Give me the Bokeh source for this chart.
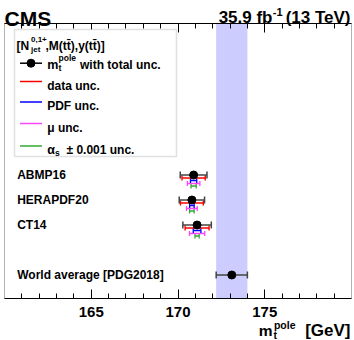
import numpy as np
from bokeh.plotting import figure
from bokeh.models import (Range1d, LinearAxis, FixedTicker, BoxAnnotation,
                          Label, ColumnDataSource)
from bokeh.core.properties import value
from bokeh.embed import file_html
from bokeh.resources import INLINE

# ---------------- data ----------------
pdf_sets = ["ABMP16", "HERAPDF20", "CT14"]
mt_pole = [170.9, 170.8, 171.1]
unc_total = [0.77, 0.73, 0.82]
unc_data = [0.67, 0.66, 0.69]
unc_pdf = [0.18, 0.13, 0.22]
unc_mu = [0.36, 0.31, 0.44]
unc_alphas = [0.15, 0.13, 0.12]

wa_label = ["World average [PDG2018]"]
wa_mt = [173.1]
wa_unc = [0.9]

major_ticks = [165, 170, 175]
minor_ticks = [t for t in range(161, 180) if t % 5 != 0]

legend_entries = ["data unc.", "PDF unc.", "\u03bc unc."]

# ---------------- geometry / style ----------------
W, H = 353, 339
FL, FR, FT, FB = 4, 351, 23, 298          # plot box in canvas pixels
XMIN, XMAX = 160, 180
PXX = (FR - FL) / (XMAX - XMIN)           # px per GeV
PXY = 25.0                                # px per row
Y0 = 0.06
FONT = "Liberation Sans"

def X(px):  # canvas pixel x -> data
    return XMIN + (px - FL) / PXX

def Y(py):  # canvas pixel y -> data
    return Y0 + (FB - py) / PXY

# the frame covers the whole canvas; the plot box is drawn with fixed-location axes
p = figure(width=W, height=H, x_range=Range1d(X(0), X(W)), y_range=Range1d(Y(H), Y(0)),
           output_backend="svg", toolbar_location=None, title=None,
           x_axis_location=None, y_axis_location=None,
           min_border_left=0, min_border_right=0, min_border_top=0, min_border_bottom=0)
p.outline_line_color = None
p.grid.visible = False
p.background_fill_color = "white"
p.border_fill_color = "white"

def make_axis(loc, show_labels):
    a = LinearAxis(fixed_location=Y(loc), bounds=(XMIN, XMAX),
                   ticker=FixedTicker(ticks=major_ticks, minor_ticks=minor_ticks),
                   major_tick_in=9, major_tick_out=0, minor_tick_in=5, minor_tick_out=0,
                   axis_line_color="black", major_tick_line_color="black",
                   minor_tick_line_color="black", axis_line_width=1)
    if show_labels:
        a.major_label_text_font = FONT
        a.major_label_text_font_style = "bold"
        a.major_label_text_font_size = "15px"
        a.major_label_text_color = "black"
        a.major_label_standoff = 8
    else:
        a.major_label_text_color = None
        a.major_label_text_font_size = "1px"
    return a

p.add_layout(make_axis(FB, True), "below")
p.add_layout(make_axis(FT, False), "above")

# world-average band
p.add_layout(BoxAnnotation(left=wa_mt[0] - wa_unc[0], right=wa_mt[0] + wa_unc[0],
                           top=Y(FT), bottom=Y(FB), fill_color="#ccccff", fill_alpha=1.0,
                           line_color=None, level="underlay"))

# plot box outline
p.add_layout(BoxAnnotation(left=XMIN, right=XMAX, top=Y(FT), bottom=Y(FB),
                           fill_color=None, fill_alpha=0, line_color="black",
                           line_width=1, level="overlay"))

# rows
rows = [5 - i for i in range(len(pdf_sets))]
wa_rows = [1]

def err(mt, unc, rows, off_px, color, lw, cap):
    off = off_px / PXY
    ys = [r - off for r in rows]
    lo = [m - u for m, u in zip(mt, unc)]
    hi = [m + u for m, u in zip(mt, unc)]
    p.segment(x0=lo, y0=ys, x1=hi, y1=ys, line_color=color, line_width=lw)
    p.scatter(x=lo + hi, y=ys + ys, marker="dash", angle=np.pi / 2, size=cap,
              line_color=color, line_width=lw)

err(mt_pole, unc_alphas, rows, 11.0, "#33aa33", 1.3, 5)
err(mt_pole, unc_mu, rows, 8.5, "#ff44ff", 1.3, 5)
err(mt_pole, unc_pdf, rows, 5.5, "#0000ff", 1.3, 5)
err(mt_pole, unc_data, rows, 3.0, "#ff0000", 1.4, 5)
err(mt_pole, unc_total, rows, 0.0, "#444444", 1.5, 7)
err(wa_mt, wa_unc, wa_rows, 0.0, "#444444", 1.5, 7)
p.scatter(x=mt_pole, y=rows, size=8, color="black")
p.scatter(x=wa_mt, y=wa_rows, size=8, color="black")

# row labels
lab_src = ColumnDataSource(dict(x=[X(16.7)] * 4, y=rows + wa_rows, t=pdf_sets + wa_label))
p.text(x="x", y="y", text="t", source=lab_src, text_font=value(FONT),
       text_font_style="bold", text_font_size="12px", text_baseline="middle",
       text_align="left", text_color="black")

# legend box
p.add_layout(BoxAnnotation(left=X(14), right=X(176), top=Y(29), bottom=Y(156),
                           fill_color="white", fill_alpha=1.0, line_color="#9a9a9a",
                           line_width=1.5, level="annotation"))

def lab(x, y, t, size, align="left", level="overlay"):
    l = Label(x=x, y=y, text=t, text_font=FONT, text_font_style="bold",
              text_font_size=f"{size}px", text_align=align, text_baseline="alphabetic",
              text_color="black", level=level)
    p.add_layout(l)

# legend samples
ly = [62.7, 81, 101.5, 123, 145.5]
lc = ["#000000", "#ff0000", "#0000ff", "#ff44ff", "#33aa33"]
r = p.segment(x0=[X(19.5)] * 5, y0=[Y(v) for v in ly], x1=[X(41.5)] * 5,
              y1=[Y(v) for v in ly], line_color=lc, line_width=1.5)
r.level = "overlay"
r2 = p.scatter(x=[X(30.5)], y=[Y(ly[0])], size=8, color="black")
r2.level = "overlay"

lab(X(16), Y(45), "[N", 12)
lab(X(30.5), Y(38.5), "0,1+", 8)
lab(X(30.5), Y(48.5), "jet", 8)
lab(X(45), Y(45), ",M(tt\u0304),y(tt\u0304)]", 12)

lab(X(46.7), Y(64), "m", 12.5)
lab(X(58), Y(57), "pole", 8.5)
lab(X(58), Y(67.5), "t", 9)
lab(X(79.5), Y(64), "with total unc.", 12)

for t, yy in zip(legend_entries, [85, 105.5, 127]):
    lab(X(46.7), Y(yy), t, 12)
lab(X(46.7), Y(149), "\u03b1", 12.5)
lab(X(54.5), Y(152), "s", 8.5)
lab(X(66), Y(149), "\u00b1 0.001 unc.", 12)

# top texts
lab(X(4), Y(17.5), "CMS", 21)
lab(X(350), Y(17), "(13 TeV)", 17, align="right")
lab(X(282), Y(11), "-1", 11, align="right")
lab(X(272), Y(17), "35.9 fb", 17, align="right")

# x axis title
lab(X(350), Y(329.5), "[GeV]", 17, align="right")
lab(X(295), Y(324), "pole", 10.5, align="right")
lab(X(273), Y(334), "t", 10.5)
lab(X(272), Y(329.5), "m", 15.5, align="right")

open("out.html", "w").write(file_html(p, INLINE))
